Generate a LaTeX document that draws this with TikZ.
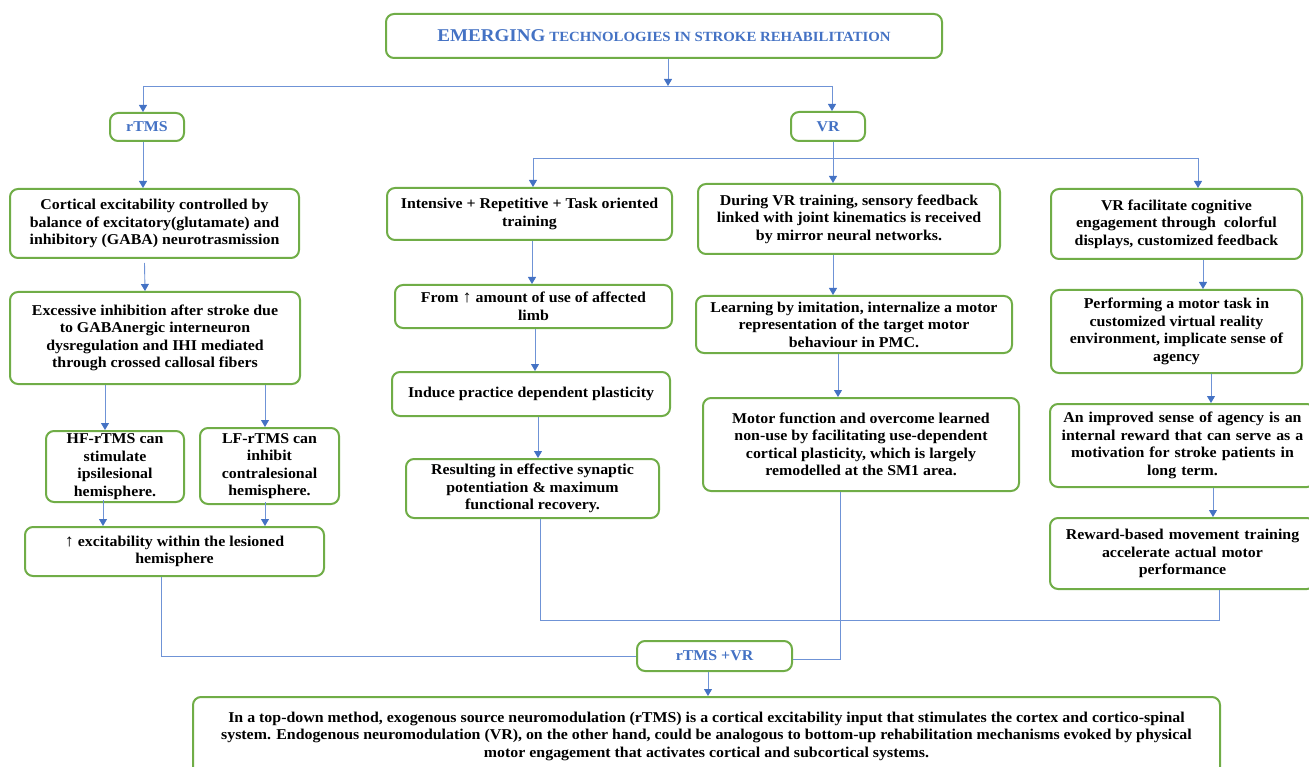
\documentclass[tikz,border=0pt]{standalone}
\usepackage{fontspec}
\setmainfont[FakeStretch=1.06]{Liberation Serif}
\usetikzlibrary{arrows.meta}
\definecolor{bxgreen}{HTML}{70AD47}
\definecolor{lnblue}{HTML}{6F93D6}
\definecolor{tipblue}{HTML}{4472C4}
\definecolor{txblue}{HTML}{4472C4}
\tikzset{
  box/.style={draw=bxgreen, line width=2pt, rounded corners=8pt, fill=white, align=center,
    font=\bfseries\fontsize{15}{17.5}\selectfont, inner sep=1pt},
  lbl/.style={box, text=txblue},
  conn/.style={draw=lnblue, line width=0.9pt},
  arr/.style={conn, -{Triangle[width=8pt,length=7pt,color=tipblue]}}
}
\begin{document}
\begin{tikzpicture}[x=1pt,y=-1pt]
\useasboundingbox (0,0) rectangle (1309,767);
\clip (0,0) rectangle (1309,767);
% nodes
\node[lbl, minimum width=556, minimum height=44] (title) at (664,36)
  {{\fontsize{18}{20}\selectfont EMERGING} {\fontsize{14}{16}\selectfont TECHNOLOGIES IN STROKE REHABILITATION}};
\node[lbl, minimum width=74, minimum height=28] (rtms) at (147,127) {rTMS};
\node[lbl, minimum width=74, minimum height=29] (vr) at (828,126.5) {VR};
\node[box, minimum width=289, minimum height=69] (L1) at (154.5,223.5)
  {Cortical excitability controlled by\\balance of excitatory(glutamate) and\\inhibitory (GABA) neurotrasmission};
\node[box, minimum width=290, minimum height=92] (L2) at (155,338)
  {Excessive inhibition after stroke due\\to GABAnergic interneuron\\dysregulation and IHI mediated\\through crossed callosal fibers};
\node[box, minimum width=138, minimum height=71] (HF) at (115,466.5)
  {HF-rTMS can\\stimulate\\ipsilesional\\hemisphere.};
\node[box, minimum width=139, minimum height=76] (LF) at (269.5,466)
  {LF-rTMS can\\inhibit\\contralesional\\hemisphere.};
\node[box, minimum width=299, minimum height=49] (EX) at (174.5,551.5)
  {{\mdseries\fontsize{17}{17.5}\selectfont ↑} excitability within the lesioned\\hemisphere};
\node[box, minimum width=285, minimum height=52] (M1a) at (529.5,214)
  {Intensive + Repetitive + Task oriented\\training};
\node[box, minimum width=277, minimum height=43] (M1b) at (533.5,306.5)
  {From {\mdseries\fontsize{17}{17.5}\selectfont ↑} amount of use of affected\\limb};
\node[box, minimum width=278, minimum height=44] (M1c) at (531,394)
  {Induce practice dependent plasticity};
\node[box, minimum width=253, minimum height=59] (M1d) at (532.5,488.5)
  {Resulting in effective synaptic\\potentiation \& maximum\\functional recovery.};
\node[box, minimum width=302, minimum height=70] (M2a) at (849,219)
  {During VR training, sensory feedback\\linked with joint kinematics is received\\by mirror neural networks.};
\node[box, minimum width=316, minimum height=57] (M2b) at (854,324.5)
  {Learning by imitation, internalize a motor\\representation of the target motor\\behaviour in PMC.};
\node[box, minimum width=316, minimum height=93] (M2c) at (861,444.5)
  {Motor function and overcome learned\\non-use by facilitating use-dependent\\cortical plasticity, which is largely\\remodelled at the SM1 area.};
\node[box, minimum width=251, minimum height=70] (R1) at (1176.5,224)
  {VR facilitate cognitive\\engagement through~ colorful\\displays, customized feedback};
\node[box, minimum width=251, minimum height=83] (R2) at (1176.5,331.5)
  {Performing a motor task in\\customized virtual reality\\environment, implicate sense of\\agency};
\node[box, minimum width=265, minimum height=83, text width=255] (R3) at (1182.5,445.5)
  {\centering An improved sense of agency is an\\internal reward that can serve as a\\motivation for stroke patients in\\long term.};
\node[box, minimum width=265, minimum height=71, text width=255] (R4) at (1182.5,553.5)
  {\centering Reward-based movement training\\accelerate actual motor\\performance};
\node[lbl, minimum width=155, minimum height=30] (RV) at (714.5,656) {rTMS +VR};
\node[box, minimum width=1027, minimum height=78, font=\bfseries\fontsize{15}{17.5}\selectfont] (BT) at (706.5,736)
  {In a top-down method, exogenous source neuromodulation (rTMS) is a cortical excitability input that stimulates the cortex and cortico-spinal\\system. Endogenous neuromodulation (VR), on the other hand, could be analogous to bottom-up rehabilitation mechanisms evoked by physical\\motor engagement that activates cortical and subcortical systems.};
% junction coordinates
\coordinate (h1) at (0,86);
\coordinate (h2) at (0,158);
\coordinate (h3) at (0,620);
% connectors top
\draw[arr] ([xshift=4]title.south) -- ([xshift=4]title.south |- h1);
\draw[conn] ([xshift=-4]rtms.north |- h1) -- ([xshift=4]vr.north |- h1);
\draw[arr] ([xshift=-4]rtms.north |- h1) -- ([xshift=-4]rtms.north);
\draw[arr] ([xshift=4]vr.north |- h1) -- ([xshift=4]vr.north);
% left column
\draw[arr] ([xshift=-4]rtms.south) -- ([xshift=-4]rtms.south |- L1.north);
\draw[arr] ([xshift=-10,yshift=-4]L1.south) -- ([xshift=-10]L2.north);
\draw[arr] ([xshift=-10]HF.north |- L2.south) -- ([xshift=-10]HF.north);
\draw[arr] ([xshift=-4.5]LF.north |- L2.south) -- ([xshift=-4.5]LF.north);
\draw[arr] ([xshift=-12,yshift=3]HF.south) -- ([xshift=-12]HF.south |- EX.north);
\draw[arr] ([xshift=-4.5,yshift=3]LF.south) -- ([xshift=-4.5]LF.south |- EX.north);
\draw[conn] ([xshift=-13.5]EX.south) |- (RV.west);
% VR fan-out
\draw[conn] ([xshift=5]vr.south) -- ([xshift=5]vr.south |- h2);
\draw[conn] ([xshift=3.5]M1a.north |- h2) -- ([xshift=21.5]R1.north |- h2);
\draw[arr] ([xshift=3.5]M1a.north |- h2) -- ([xshift=3.5]M1a.north);
\draw[arr] ([xshift=-16]M2a.north |- h2) -- ([xshift=-16]M2a.north);
\draw[arr] ([xshift=21.5]R1.north |- h2) -- ([xshift=21.5]R1.north);
% middle column 1
\draw[arr] ([xshift=2.5]M1a.south) -- ([xshift=2.5]M1a.south |- M1b.north);
\draw[arr] ([xshift=1.5]M1b.south) -- ([xshift=1.5]M1b.south |- M1c.north);
\draw[arr] ([xshift=7]M1c.south) -- ([xshift=7]M1c.south |- M1d.north);
% middle column 2
\draw[arr] ([xshift=-16]M2a.south) -- ([xshift=-16]M2a.south |- M2b.north);
\draw[arr] ([xshift=-16]M2b.south) -- ([xshift=-16]M2b.south |- M2c.north);
% right column
\draw[arr] ([xshift=26.5]R1.south) -- ([xshift=26.5]R1.south |- R2.north);
\draw[arr] ([xshift=34.5]R2.south) -- ([xshift=34.5]R2.south |- R3.north);
\draw[arr] ([xshift=30.5]R3.south) -- ([xshift=30.5]R3.south |- R4.north);
% to combination
\draw[conn] ([xshift=7.5]M1d.south) -- ([xshift=7.5]M1d.south |- h3) -| ([xshift=36.5]R4.south);
\draw[conn] ([xshift=-21]M2c.south) |- ([yshift=-3]RV.east);
\draw[arr] ([xshift=-6.5]RV.south) -- ([xshift=-6.5]RV.south |- BT.north);
\end{tikzpicture}
\end{document}
